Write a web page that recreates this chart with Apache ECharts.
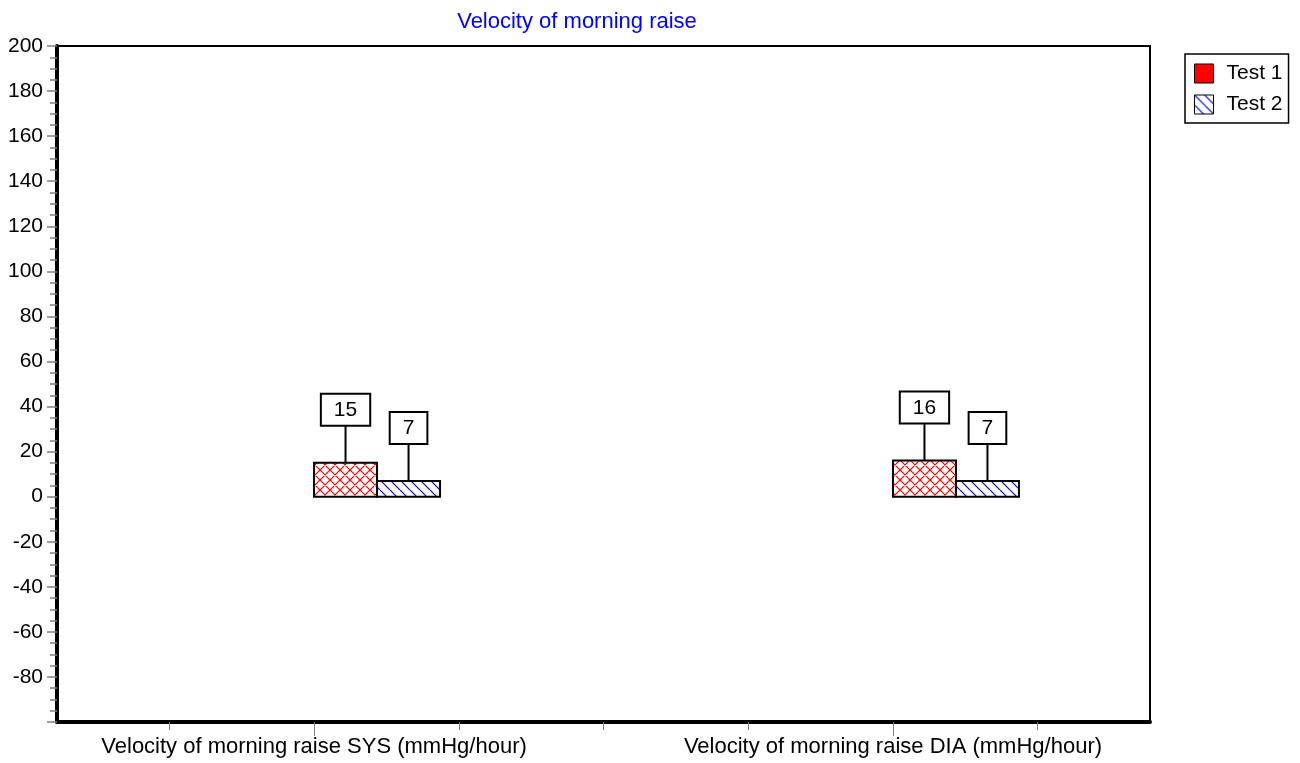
<!DOCTYPE html>
<html>
<head>
<meta charset="utf-8">
<title>Velocity of morning raise</title>
<script src="https://cdn.jsdelivr.net/npm/echarts@6/dist/echarts.min.js"></script>
<style>
    html, body { margin: 0; padding: 0; background: #fff; }
    #chart { width: 1300px; height: 763px; }
</style>
</head>
<body>
<div id="chart"></div>
<script>
// 类目（放在数值横轴的 1 和 2 上）
var categories = ['Velocity of morning raise SYS (mmHg/hour)', 'Velocity of morning raise DIA (mmHg/hour)'];
var categoryPos = [1, 2];
var seriesNames = ['Test 1', 'Test 2'];
// 纵轴数据
var test1Values = [15, 16];
var test2Values = [7, 7];
// 横轴刻度
var xTickValues = [0.75, 1, 1.25, 1.5, 1.75, 2, 2.25];

var FONT = '"Liberation Sans", Arial, sans-serif';
var BAR_W = 63;     // 柱宽 px
var LEAD = 38;      // 标签连线长度 px
var X_PAD = 0.444;  // 横轴两端留白（类目单位）

// 用canvas画填充图案
function makePattern(color, cross) {
    var c = document.createElement('canvas');
    c.width = 10;
    c.height = 10;
    var ctx = c.getContext('2d');
    ctx.fillStyle = '#fff';
    ctx.fillRect(0, 0, 10, 10);
    ctx.strokeStyle = color;
    ctx.lineWidth = 1.2;
    ctx.beginPath();
    [-10, 0, 10].forEach(function (k) {
        ctx.moveTo(k, 0); ctx.lineTo(k + 10, 10);
        if (cross) { ctx.moveTo(k + 10, 0); ctx.lineTo(k, 10); }
    });
    ctx.stroke();
    return { image: c, repeat: 'repeat' };
}
var patterns = [makePattern('#ff0000', true), makePattern('#0000ff', false)];

function toData(values) {
    return values.map(function (v, i) { return [categoryPos[i], v]; });
}

function renderBar(params, api) {
    var cat = api.value(0);
    var val = api.value(1);
    var base = api.coord([cat, 0]);
    var top = api.coord([cat, val]);
    var x = base[0] + params.seriesIndex * BAR_W;
    var cx = x + BAR_W / 2;
    return {
        type: 'group',
        children: [
            {
                type: 'rect',
                shape: { x: x, y: top[1], width: BAR_W, height: base[1] - top[1] },
                style: { fill: patterns[params.seriesIndex], stroke: '#000', lineWidth: 2 }
            },
            {
                type: 'line',
                shape: { x1: cx, y1: top[1], x2: cx, y2: top[1] - LEAD },
                style: { stroke: '#000', lineWidth: 2 }
            },
            {
                type: 'text',
                x: cx,
                y: top[1] - LEAD,
                style: {
                    text: String(val),
                    fill: '#000',
                    fontSize: 21,
                    fontFamily: FONT,
                    align: 'center',
                    verticalAlign: 'bottom',
                    backgroundColor: '#fff',
                    borderColor: '#000',
                    borderWidth: 2,
                    padding: [5, 12, 4, 12]
                }
            }
        ]
    };
}

var chart = echarts.init(document.getElementById('chart'));

var option = {
    animation: false,
    backgroundColor: '#fff',
    title: {
        text: 'Velocity of morning raise',
        left: 572,
        textAlign: 'center',
        top: 6,
        textStyle: { color: '#0000ff', fontSize: 22, fontWeight: 'normal', fontFamily: FONT }
    },
    legend: {
        orient: 'vertical',
        left: 1185,
        top: 54,
        padding: [9, 6, 8, 9],
        itemGap: 10,
        itemWidth: 19,
        itemHeight: 19,
        borderColor: '#000',
        borderWidth: 1.5,
        textStyle: { color: '#000', fontSize: 21, fontFamily: FONT, padding: [0, 0, 0, 8] },
        data: [
            { name: seriesNames[0], icon: 'rect', itemStyle: { color: '#ff0000', borderColor: '#000', borderWidth: 1 } },
            { name: seriesNames[1], icon: 'rect', itemStyle: { color: patterns[1], borderColor: '#000', borderWidth: 1 } }
        ]
    },
    grid: {
        left: 57,
        right: 150,
        top: 46,
        bottom: 41,
        show: true,
        borderColor: '#000',
        borderWidth: 2
    },
    xAxis: [
        {
            type: 'value',
            min: categoryPos[0] - X_PAD,
            max: categoryPos[1] + X_PAD,
            position: 'bottom',
            axisLine: { show: true, onZero: false, lineStyle: { color: '#000', width: 4 } },
            axisTick: { show: true, customValues: xTickValues, length: 8, lineStyle: { color: '#808080' } },
            axisLabel: {
                customValues: categoryPos,
                margin: 14,
                color: '#000',
                fontSize: 22,
                fontFamily: FONT,
                formatter: function (v) { return categories[categoryPos.indexOf(v)] || ''; }
            },
            splitLine: { show: false }
        },
        {
            // 类目处的长刻度
            type: 'value',
            min: categoryPos[0] - X_PAD,
            max: categoryPos[1] + X_PAD,
            position: 'bottom',
            offset: 0,
            axisLine: { show: false, onZero: false },
            axisTick: { show: true, customValues: categoryPos, length: 14, lineStyle: { color: '#808080' } },
            axisLabel: { show: false },
            splitLine: { show: false }
        }
    ],
    yAxis: {
        type: 'value',
        min: -100,
        max: 200,
        interval: 20,
        axisLine: { show: true, lineStyle: { color: '#000', width: 4 } },
        axisTick: { show: true, length: 10, lineStyle: { color: '#808080', width: 1.5 } },
        minorTick: { show: true, splitNumber: 4, length: 7, lineStyle: { color: '#808080', width: 1.5 } },
        axisLabel: { showMinLabel: false, margin: 14, color: '#000', fontSize: 21, fontFamily: FONT },
        splitLine: { show: false }
    },
    series: [
        {
            name: seriesNames[0],
            type: 'custom',
            xAxisIndex: 0,
            itemStyle: { color: '#ff0000' },
            renderItem: renderBar,
            data: toData(test1Values)
        },
        {
            name: seriesNames[1],
            type: 'custom',
            xAxisIndex: 0,
            itemStyle: { color: '#0000ff' },
            renderItem: renderBar,
            data: toData(test2Values)
        }
    ]
};

chart.setOption(option);
</script>
</body>
</html>
